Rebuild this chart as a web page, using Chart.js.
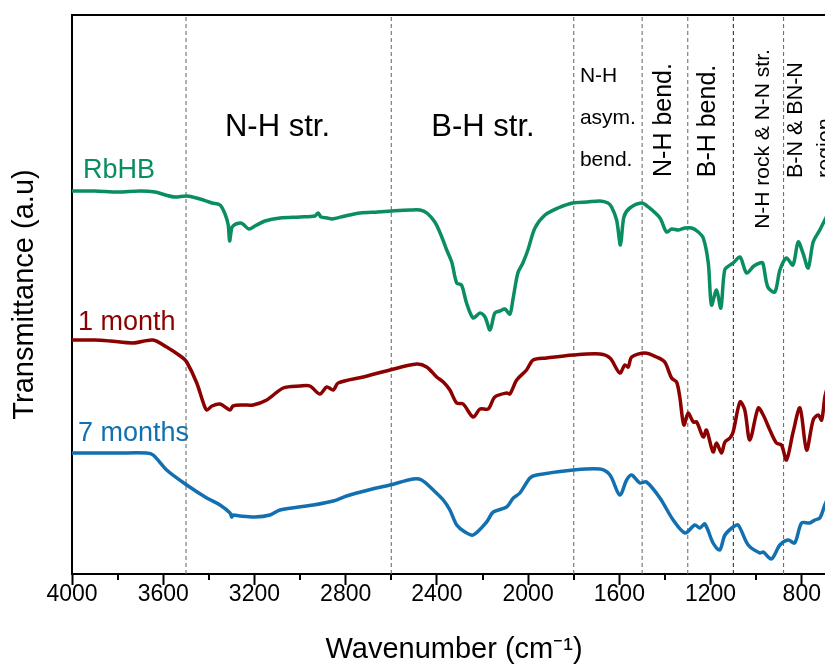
<!DOCTYPE html>
<html>
<head>
<meta charset="utf-8">
<script src="https://cdn.jsdelivr.net/npm/chart.js@4.4.1/dist/chart.umd.min.js"></script>
<style>
  html, body { margin: 0; padding: 0; background: #fff; overflow: hidden; }
  #wrap { width: 850px; height: 664px; }
</style>
</head>
<body>
<div id="wrap"><canvas id="ftir" width="850" height="664"></canvas></div>
<script>
// FTIR spectra: wavenumber (cm-1) and offset transmittance (a.u.)
const rbhbWn = [
  4000,3900,3800,3700,3636,3590,3548,3496,3439,3386,
  3351,3329,3315,3309,3300,3294,3281,3260,3246,3224,
  3198,3154,3088,3000,2935,2921,2908,2880,2860,2803,
  2737,2660,2597,2518,2474,2444,2409,2382,2357,2335,
  2313,2292,2270,2241,2211,2189,2167,2146,2124,2102,
  2080,2067,2045,2023,2001,1970,1926,1869,1804,1740,
  1685,1650,1634,1612,1595,1580,1554,1502,1473,1422,
  1393,1371,1340,1312,1283,1254,1232,1210,1196,1174,
  1155,1138,1115,1101,1071,1042,1010,984,971,949,
  918,896,867,839,816,795,772,750,721,699,
  690
];
const rbhbT = [
  3.83,3.83,3.82,3.83,3.82,3.79,3.77,3.78,3.75,3.71,
  3.69,3.60,3.49,3.33,3.46,3.48,3.50,3.51,3.49,3.45,
  3.48,3.53,3.56,3.57,3.58,3.61,3.57,3.56,3.55,3.58,
  3.61,3.62,3.63,3.64,3.64,3.61,3.52,3.39,3.24,3.12,
  2.91,2.89,2.71,2.56,2.61,2.57,2.44,2.61,2.63,2.65,
  2.60,2.74,3.01,3.11,3.24,3.46,3.59,3.66,3.71,3.72,
  3.73,3.71,3.67,3.54,3.29,3.57,3.66,3.71,3.67,3.56,
  3.42,3.45,3.44,3.46,3.46,3.42,3.36,3.11,2.69,2.84,
  2.66,3.04,3.09,3.11,3.17,3.01,3.08,3.11,3.11,2.87,
  2.82,3.04,3.16,3.09,3.32,3.21,3.06,3.32,3.44,3.54,
  3.58
];

const month1Wn = [
  4000,3900,3833,3733,3645,3585,3519,3497,3453,3424,
  3409,3386,3351,3307,3294,3250,3206,3146,3074,3000,
  2957,2913,2883,2854,2833,2723,2606,2489,2445,2401,
  2372,2343,2313,2285,2241,2211,2175,2146,2094,2080,
  2050,2007,1978,1919,1802,1685,1641,1598,1576,1561,
  1546,1488,1437,1401,1371,1349,1335,1317,1298,1276,
  1261,1232,1218,1189,1174,1152,1137,1115,1101,1071,
  1050,1028,991,969,940,911,889,867,838,808,
  779,750,728,713,699,690
];
const month1T = [
  2.34,2.34,2.33,2.31,2.34,2.27,2.17,2.12,1.91,1.71,
  1.64,1.68,1.70,1.64,1.68,1.69,1.69,1.74,1.86,1.88,
  1.88,1.80,1.87,1.84,1.91,1.97,2.04,2.10,2.07,1.97,
  1.92,1.84,1.71,1.70,1.57,1.65,1.65,1.77,1.81,1.80,
  1.94,2.04,2.14,2.16,2.19,2.20,2.16,2.01,2.09,2.07,
  2.17,2.21,2.17,2.12,1.96,1.92,1.77,1.49,1.61,1.52,
  1.52,1.37,1.44,1.22,1.31,1.21,1.32,1.36,1.42,1.72,
  1.64,1.34,1.66,1.59,1.44,1.31,1.29,1.14,1.42,1.66,
  1.24,1.54,1.59,1.54,1.77,1.85
];

const month7Wn = [
  4000,3900,3800,3673,3644,3585,3497,3409,3351,3307,
  3300,3294,3264,3198,3132,3088,2942,2854,2796,2700,
  2606,2504,2467,2416,2372,2343,2313,2277,2241,2182,
  2153,2094,2065,2036,1992,1963,1802,1685,1641,1598,
  1568,1546,1510,1481,1422,1364,1312,1269,1247,1225,
  1189,1160,1137,1101,1079,1035,984,969,933,896,
  860,831,801,765,743,721,699,690
];
const month7T = [
  1.21,1.21,1.21,1.21,1.19,1.04,0.89,0.76,0.69,0.61,
  0.57,0.59,0.58,0.57,0.59,0.64,0.69,0.73,0.78,0.84,
  0.89,0.95,0.94,0.84,0.74,0.64,0.49,0.42,0.39,0.52,
  0.62,0.67,0.76,0.81,0.96,0.99,1.04,1.05,0.99,0.79,
  0.94,0.99,0.91,0.92,0.76,0.54,0.41,0.49,0.46,0.50,
  0.31,0.24,0.39,0.47,0.49,0.29,0.21,0.22,0.15,0.29,
  0.34,0.31,0.51,0.51,0.54,0.56,0.69,0.74
];

// Region boundaries (cm-1) and axis ticks
const bandEdges = [3500, 2600, 1800, 1500, 1300, 1100, 880];
const xMajorTicks = [4000, 3600, 3200, 2800, 2400, 2000, 1600, 1200, 800];
const xMinorTicks = [3800, 3400, 3000, 2600, 2200, 1800, 1400, 1000];

const X_MIN = 650, X_MAX = 4000, Y_MIN = 0, Y_MAX = 5.59;

const COLORS = { rbhb: '#0a8d60', m1: '#8b0000', m7: '#1270b0' };
const FONT = "'Liberation Sans', Arial, Helvetica, sans-serif";

const toPoints = (wn, t) => wn.map((w, i) => ({ x: w, y: t[i] }));

function spectrum(label, wn, t, color) {
  return {
    label, data: toPoints(wn, t), borderColor: color, borderWidth: 3.5,
    pointRadius: 0, tension: 0.3,
    borderJoinStyle: 'round', borderCapStyle: 'round', order: 0
  };
}

const edgeSets = bandEdges.map(w => ({
  label: 'edge ' + w,
  data: [{ x: w, y: Y_MIN }, { x: w, y: Y_MAX }],
  borderColor: w === 1100 ? '#333' : '#707070',
  borderWidth: 1.1, borderDash: [4, 3], pointRadius: 0, order: 5
}));

// Text placed in data coordinates: [text, wavenumber, T, size, color, align, baseline, rotated]
const regionLabels = [
  ['N-H str.', 3099, 4.47, 31, '#000', 'center', 'middle', false],
  ['B-H str.', 2198, 4.47, 31, '#000', 'center', 'middle', false],
  ['N-H', 1773, 4.92, 21, '#000', 'left', 'alphabetic', false],
  ['asym.', 1773, 4.50, 21, '#000', 'left', 'alphabetic', false],
  ['bend.', 1773, 4.08, 21, '#000', 'left', 'alphabetic', false],
  ['N-H bend.', 1405, 4.54, 25, '#000', 'center', 'middle', true],
  ['B-H bend.', 1210, 4.53, 25, '#000', 'center', 'middle', true],
  ['N-H rock & N-N str.', 968, 4.35, 21, '#000', 'center', 'middle', true],
  ['B-N & BN-N', 826, 3.96, 21.5, '#000', 'left', 'middle', true],
  ['region', 694, 3.96, 21.5, '#000', 'left', 'middle', true]
];
const seriesLabels = [
  ['RbHB', 3952, 3.96, 27, COLORS.rbhb, 'left', 'alphabetic', false],
  ['1 month', 3974, 2.44, 27, COLORS.m1, 'left', 'alphabetic', false],
  ['7 months', 3974, 1.33, 27, COLORS.m7, 'left', 'alphabetic', false]
];

const textPlugin = {
  id: 'spectrumText',
  afterDatasetsDraw(chart) {
    const { ctx, scales: { x, y } } = chart;
    ctx.save();
    for (const [text, w, t, size, color, align, baseline, rot] of regionLabels.concat(seriesLabels)) {
      ctx.save();
      ctx.translate(x.getPixelForValue(w), y.getPixelForValue(t));
      if (rot) ctx.rotate(-Math.PI / 2);
      ctx.font = size + 'px ' + FONT;
      ctx.fillStyle = color;
      ctx.textAlign = align;
      ctx.textBaseline = baseline;
      ctx.fillText(text, 0, 0);
      ctx.restore();
    }
    ctx.restore();
  }
};

const framePlugin = {
  id: 'frameExtras',
  afterDraw(chart) {
    const { ctx, chartArea, scales: { x } } = chart;
    ctx.save();
    ctx.strokeStyle = '#000';
    ctx.lineWidth = 2;
    // top frame edge
    ctx.beginPath();
    ctx.moveTo(chartArea.left - 1, chartArea.top);
    ctx.lineTo(chartArea.right, chartArea.top);
    ctx.stroke();
    // minor ticks on the wavenumber axis
    ctx.beginPath();
    for (const v of xMinorTicks) {
      const px = Math.round(x.getPixelForValue(v));
      ctx.moveTo(px, x.top);
      ctx.lineTo(px, x.top + 6);
    }
    ctx.stroke();
    ctx.restore();
  }
};

new Chart(document.getElementById('ftir'), {
  type: 'line',
  data: {
    datasets: [
      spectrum('RbHB', rbhbWn, rbhbT, COLORS.rbhb),
      spectrum('1 month', month1Wn, month1T, COLORS.m1),
      spectrum('7 months', month7Wn, month7T, COLORS.m7),
      ...edgeSets
    ]
  },
  options: {
    responsive: false,
    animation: false,
    events: [],
    layout: { padding: { top: 15, right: 14, left: 0, bottom: 0 } },
    plugins: { legend: { display: false }, tooltip: { enabled: false } },
    scales: {
      x: {
        type: 'linear', reverse: true, min: X_MIN, max: X_MAX,
        afterFit: s => { s.height = 90; },
        afterBuildTicks: s => { s.ticks = xMajorTicks.map(v => ({ value: v })); },
        ticks: {
          callback: v => String(v), color: '#000', padding: -2, maxRotation: 0, autoSkip: false,
          font: { family: FONT, size: 23, lineHeight: 1 }
        },
        grid: { display: true, drawOnChartArea: false, drawTicks: true, tickLength: 11, tickWidth: 2, tickColor: '#000', color: '#000' },
        border: { display: true, color: '#000', width: 2 },
        title: {
          display: true, text: 'Wavenumber (cm\u207B\u00B9)', color: '#000',
          font: { family: FONT, size: 29, lineHeight: 1 }, padding: { top: 0, bottom: 0 }
        }
      },
      y: {
        type: 'linear', min: Y_MIN, max: Y_MAX,
        afterFit: s => { s.width = 72; },
        ticks: { display: false },
        grid: { display: false },
        border: { display: true, color: '#000', width: 2 },
        title: {
          display: true, text: 'Transmittance (a.u)', color: '#000',
          font: { family: FONT, size: 29, lineHeight: 1 }, padding: { top: 10.5, bottom: 0 }
        }
      }
    }
  },
  plugins: [textPlugin, framePlugin]
});
</script>
</body>
</html>
